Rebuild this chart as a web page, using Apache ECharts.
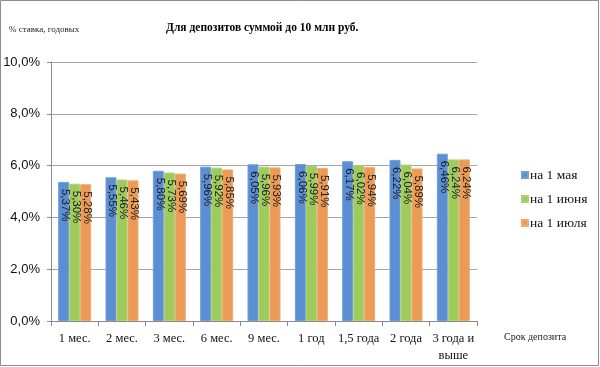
<!DOCTYPE html>
<html><head><meta charset="utf-8">
<script src="https://cdn.jsdelivr.net/npm/echarts@6/dist/echarts.min.js"></script>
<style>html,body{margin:0;padding:0;background:#fff}#c{width:600px;height:367px}</style>
</head><body><div id="c"></div>
<script>
const categories = ['1 мес.', '2 мес.', '3 мес.', '6 мес.', '9 мес.', '1 год', '1,5 года', '2 года', '3 года и\nвыше'];
const seriesNames = ['на 1 мая', 'на 1 июня', 'на 1 июля'];
const may = [5.37, 5.55, 5.80, 5.96, 6.05, 6.06, 6.17, 6.22, 6.46];
const june = [5.30, 5.46, 5.73, 5.92, 5.96, 5.99, 6.02, 6.04, 6.24];
const july = [5.28, 5.43, 5.69, 5.85, 5.93, 5.91, 5.94, 5.89, 6.24];
const colors = ['#5b8ed3', '#9fcb5d', '#ec9b57'];

const chart = echarts.init(document.getElementById('c'));
const fmt = v => v.toFixed(2).replace('.', ',') + '%';
const BAR_W = 11;
function bar(name, data, i) {
  return {
    name, type: 'bar', data, barWidth: BAR_W, barGap: '0%',
    itemStyle: { color: colors[i], borderColor: echarts.color.lift(colors[i], 0.15), borderWidth: 1 }
  };
}
function labels(data, i) {
  return {
    name: '_lbl' + i, type: 'custom', coordinateSystem: 'cartesian2d', silent: true, z: 5,
    data: data.map((v, k) => [k, v]),
    encode: { x: 0, y: 1 },
    renderItem: (params, api) => {
      const v = api.value(1);
      const pt = api.coord([api.value(0), v]);
      return {
        type: 'text', x: pt[0] + (i - 1) * BAR_W + 1.5, y: pt[1] + 7, rotation: -Math.PI / 2,
        style: { text: fmt(v), fill: '#1a1a1a', font: '11.5px "Liberation Sans", Arial', align: 'left', verticalAlign: 'middle' }
      };
    }
  };
}
chart.setOption({
  animation: false,
  graphic: [{ type: 'rect', shape: { x: 0.5, y: 0.5, width: 598, height: 365 }, style: { fill: 'none', stroke: '#8c8c8c', lineWidth: 1 } }],
  title: [
    { text: 'Для депозитов суммой до 10 млн руб.', left: 161, top: 17,
      textStyle: { fontFamily: 'Liberation Serif, Times New Roman', fontWeight: 'bold', fontSize: 11.5, color: '#000' } },
    { text: '% ставка, годовых', left: 4, top: 20,
      textStyle: { fontFamily: 'Liberation Serif, Times New Roman', fontWeight: 'normal', fontSize: 9, color: '#222' } }
  ],
  legend: {
    orient: 'vertical', left: 516, top: 163, itemGap: 10, itemWidth: 6, itemHeight: 6, icon: 'rect',
    data: seriesNames,
    textStyle: { fontFamily: 'Liberation Serif, Times New Roman', fontSize: 13.5, color: '#111', padding: [0, 0, 0, -3] }
  },
  grid: { left: 51, right: 123, top: 62, bottom: 46 },
  xAxis: {
    type: 'category', data: categories,
    name: 'Срок депозита', nameLocation: 'end', nameGap: 27,
    nameTextStyle: { fontFamily: 'Liberation Serif, Times New Roman', fontSize: 10, color: '#222', verticalAlign: 'top', padding: [11, 0, 0, 0] },
    axisLine: { lineStyle: { color: '#8a8a8a' } },
    axisTick: { show: true, length: 5, lineStyle: { color: '#8a8a8a' } },
    axisLabel: { fontFamily: 'Liberation Serif, Times New Roman', fontSize: 12.5, color: '#111', margin: 9, lineHeight: 17, interval: 0 }
  },
  yAxis: {
    type: 'value', min: 0, max: 10, interval: 2,
    axisLine: { show: true, lineStyle: { color: '#8a8a8a' } },
    axisTick: { show: true, length: 4, lineStyle: { color: '#8a8a8a' } },
    splitLine: { lineStyle: { color: '#a6a6a6' } },
    axisLabel: { formatter: v => v.toFixed(1).replace('.', ',') + '%', fontFamily: 'Liberation Sans, Arial', fontSize: 13, color: '#111', margin: 11 }
  },
  series: [bar(seriesNames[0], may, 0), bar(seriesNames[1], june, 1), bar(seriesNames[2], july, 2),
           labels(may, 0), labels(june, 1), labels(july, 2)]
});
</script></body></html>
